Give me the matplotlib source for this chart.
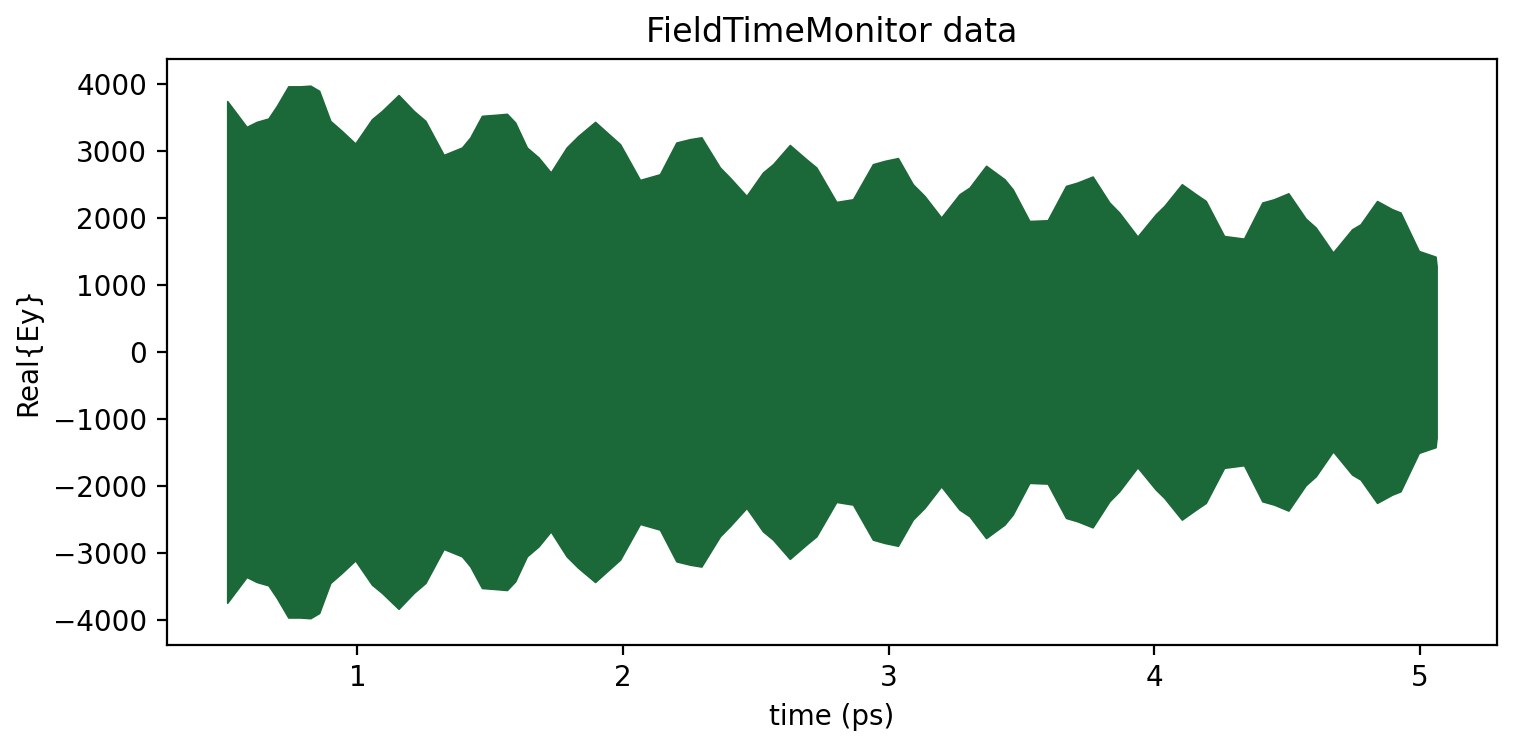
import numpy as np
import matplotlib
matplotlib.use("Agg")
from matplotlib import pyplot as plt

# envelope of Real{Ey} (time in ps, amplitude)
time_ps = [0.510, 0.583, 0.621, 0.665, 0.697, 0.740, 0.785, 0.823, 0.856, 0.898,
           0.941, 0.992, 1.055, 1.093, 1.155, 1.212, 1.256, 1.325, 1.394, 1.425,
           1.469, 1.519, 1.563, 1.594, 1.638, 1.682, 1.728, 1.788, 1.832, 1.895,
           1.951, 1.989, 2.064, 2.139, 2.201, 2.252, 2.295, 2.365, 2.402, 2.465,
           2.527, 2.565, 2.628, 2.690, 2.728, 2.803, 2.866, 2.941, 2.985, 3.035,
           3.091, 3.135, 3.198, 3.267, 3.305, 3.367, 3.436, 3.467, 3.530, 3.599,
           3.668, 3.711, 3.768, 3.831, 3.868, 3.937, 4.006, 4.038, 4.104, 4.157,
           4.194, 4.263, 4.338, 4.407, 4.451, 4.505, 4.570, 4.608, 4.673, 4.745,
           4.777, 4.839, 4.896, 4.927, 4.996, 5.059, 5.063]
envelope = [3740, 3355, 3430, 3480, 3669, 3960, 3960, 3970, 3893, 3445,
            3296, 3107, 3470, 3594, 3830, 3594, 3445, 2937, 3048, 3197,
            3520, 3535, 3550, 3421, 3048, 2899, 2675, 3048, 3221, 3430,
            3231, 3097, 2564, 2649, 3122, 3172, 3200, 2749, 2600, 2325,
            2675, 2799, 3085, 2873, 2749, 2236, 2276, 2799, 2848, 2890,
            2500, 2325, 2003, 2351, 2451, 2775, 2575, 2425, 1952, 1963,
            2475, 2525, 2615, 2227, 2078, 1719, 2052, 2176, 2500, 2351,
            2251, 1728, 1689, 2227, 2276, 2365, 1988, 1854, 1481, 1828,
            1903, 2250, 2127, 2078, 1505, 1420, 1281]

t = np.array(time_ps)
env = np.array(envelope)

fig = plt.figure(figsize=(7.58, 3.74), dpi=200)
ax = fig.add_axes([0.110, 0.138, 0.8775, 0.783])
ax.fill_between(t, -env, env, facecolor="#1b6838", edgecolor="#1b6838",
                linewidth=0.6, joinstyle="round")
ax.set_title("FieldTimeMonitor data")
ax.set_xlabel("time (ps)")
ax.set_ylabel("Real{Ey}")
fig.savefig("out.png", dpi=200)
